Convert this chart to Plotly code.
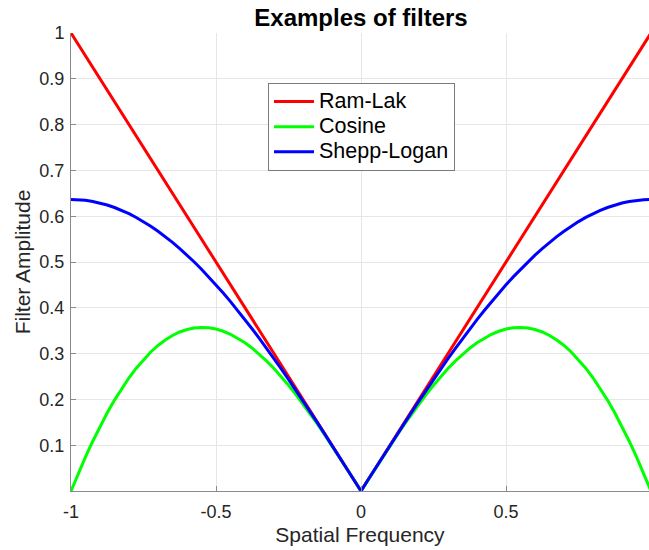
import plotly.graph_objects as go

# positive half of the frequency axis (curves are symmetric about 0)
freq_half = [0.0, 0.025, 0.05, 0.075, 0.1, 0.125, 0.15, 0.175, 0.2, 0.225,
             0.25, 0.275, 0.3, 0.325, 0.35, 0.375, 0.4, 0.425, 0.45, 0.475,
             0.5, 0.525, 0.55, 0.575, 0.6, 0.625, 0.65, 0.675, 0.7, 0.725,
             0.75, 0.775, 0.8, 0.825, 0.85, 0.875, 0.9, 0.925, 0.95, 0.975, 1.0]

ram_lak_half = [0.0, 0.025, 0.05, 0.075, 0.1, 0.125, 0.15, 0.175, 0.2, 0.225,
                0.25, 0.275, 0.3, 0.325, 0.35, 0.375, 0.4, 0.425, 0.45, 0.475,
                0.5, 0.525, 0.55, 0.575, 0.6, 0.625, 0.65, 0.675, 0.7, 0.725,
                0.75, 0.775, 0.8, 0.825, 0.85, 0.875, 0.9, 0.925, 0.95, 0.975, 1.0]

cosine_half = [0.0, 0.0250, 0.0498, 0.0745, 0.0988, 0.1226, 0.1459, 0.1684, 0.1902, 0.2111,
               0.2310, 0.2497, 0.2673, 0.2836, 0.2984, 0.3118, 0.3236, 0.3338, 0.3422, 0.3488,
               0.3536, 0.3564, 0.3572, 0.3560, 0.3527, 0.3472, 0.3396, 0.3298, 0.3178, 0.3035,
               0.2870, 0.2682, 0.2472, 0.2239, 0.1984, 0.1707, 0.1408, 0.1087, 0.0745, 0.0383, 0.0]

shepp_logan_half = [0.0, 0.0250, 0.0500, 0.0748, 0.0996, 0.1242, 0.1486, 0.1728, 0.1967, 0.2204,
                    0.2436, 0.2665, 0.2890, 0.3111, 0.3326, 0.3537, 0.3742, 0.3941, 0.4135, 0.4321,
                    0.4502, 0.4675, 0.4841, 0.5000, 0.5150, 0.5293, 0.5428, 0.5555, 0.5672, 0.5781,
                    0.5882, 0.5973, 0.6055, 0.6127, 0.6190, 0.6244, 0.6288, 0.6322, 0.6347, 0.6361, 0.6366]

series_names = ["Ram-Lak", "Cosine", "Shepp-Logan"]
series_colors = ["#ff0000", "#00ff00", "#0000ff"]

x_ticks = [-1, -0.5, 0, 0.5, 1]
x_tick_text = ["-1", "-0.5", "0", "0.5", "1"]
y_ticks = [0.1, 0.2, 0.3, 0.4, 0.5, 0.6, 0.7, 0.8, 0.9, 1.0]
y_tick_text = ["0.1", "0.2", "0.3", "0.4", "0.5", "0.6", "0.7", "0.8", "0.9", "1"]


def mirror(half, negate=False):
    left = [(-v if negate else v) for v in reversed(half[1:])]
    return left + list(half)


freq = mirror(freq_half, negate=True)
series_values = [mirror(ram_lak_half), mirror(cosine_half), mirror(shepp_logan_half)]

FONT = "Liberation Sans, Arial, Helvetica, sans-serif"
TXT = "#262626"
AXC = "#8a8a8a"
GRID = "#e6e6e6"

W, H = 649, 550
ML, MR, MT, MB = 71, 0, 33, 59
px_per_unit = 290.0
x_max = -1 + (W - ML - MR) / px_per_unit

fig = go.Figure()
for name, color, vals in zip(series_names, series_colors, series_values):
    fig.add_trace(go.Scatter(
        x=freq, y=vals, mode="lines",
        name='<span style="font-size:21.5px">' + name + "</span>",
        line=dict(color=color, width=3)))

fig.update_layout(
    width=W, height=H,
    margin=dict(l=ML, r=MR, t=MT, b=MB, pad=0),
    paper_bgcolor="white", plot_bgcolor="white",
    font=dict(family=FONT, color=TXT, size=18),
    title=dict(text="<b>Examples of filters</b>", x=(ML + 290) / W, xanchor="center",
               y=1 - 18 / H, yanchor="middle", yref="container",
               font=dict(size=24, color="#000000", family=FONT)),
    showlegend=True,
    legend=dict(x=(268 - ML) / (W - ML - MR), y=(491 - 83) / (H - MT - MB),
                xanchor="left", yanchor="top",
                bgcolor="white", bordercolor="#7a7a7a", borderwidth=1,
                font=dict(size=17, color="#000000", family=FONT),
                tracegroupgap=0, itemwidth=40),
    xaxis=dict(range=[-1, x_max], tickvals=x_ticks, ticktext=x_tick_text,
               showgrid=True, gridcolor=GRID, gridwidth=1, zeroline=False,
               showline=True, linecolor=AXC, linewidth=1,
               ticks="inside", ticklen=5, tickcolor=AXC,
               tickfont=dict(size=18, color=TXT),
               title=dict(text="Spatial Frequency", font=dict(size=21, color=TXT), standoff=6),
               ticklabelstandoff=4, fixedrange=True),
    yaxis=dict(range=[0, 1], tickvals=y_ticks, ticktext=y_tick_text,
               showgrid=True, gridcolor=GRID, gridwidth=1, zeroline=False,
               showline=True, linecolor=AXC, linewidth=1,
               ticks="inside", ticklen=5, tickcolor=AXC,
               tickfont=dict(size=18, color=TXT),
               title=dict(text="Filter Amplitude", font=dict(size=21, color=TXT), standoff=3),
               ticklabelstandoff=2, fixedrange=True),
)

# the "1" tick label at the right edge is partly cut off in the reference
fig.add_annotation(x=1, y=0, xref="x", yref="paper", text="1", showarrow=False,
                   yanchor="middle", xanchor="center", yshift=-19,
                   font=dict(size=18, color=TXT, family=FONT))

fig.write_html("out.html", config={"displayModeBar": False})
